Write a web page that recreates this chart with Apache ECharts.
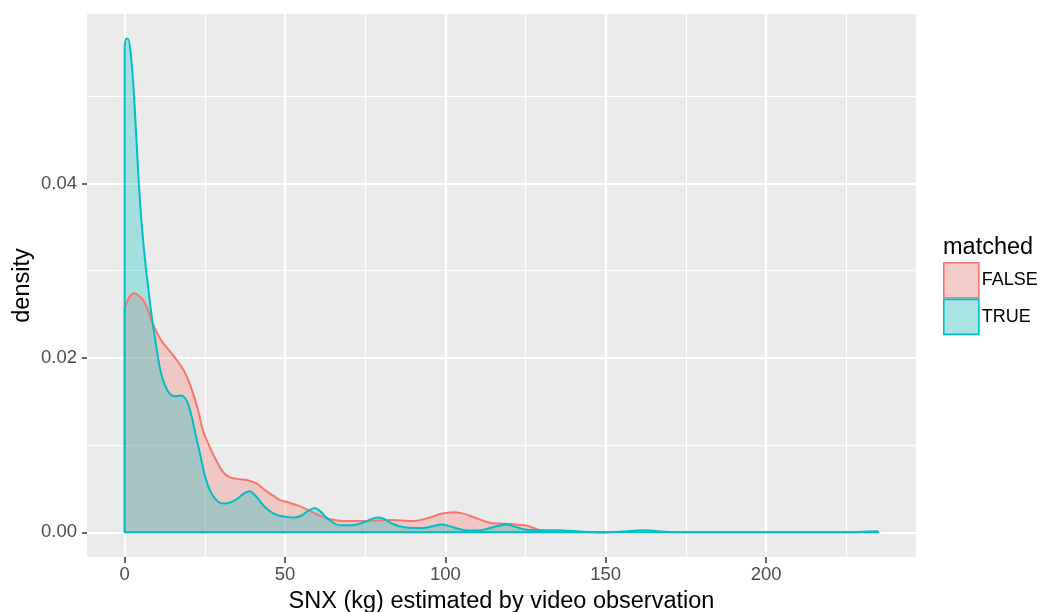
<!DOCTYPE html>
<html>
<head>
<meta charset="utf-8">
<script src="https://cdn.jsdelivr.net/npm/echarts@6/dist/echarts.min.js"></script>
<style>
html,body{margin:0;padding:0;background:#fff;}
#chart{width:1047px;height:612px;}
</style>
</head>
<body>
<div id="chart"></div>
<script>
// ---- data ----
const trueX = [0, 0.5, 1, 2, 3, 4.4, 5.5, 6.7, 7.3, 8.3, 9.9, 11, 12, 13.3, 14.6, 16, 17.7, 18.8, 19.8, 21, 22.3, 23.5, 24.5, 25.5, 27, 29.1, 31, 32.8, 35, 37, 39, 41, 43.2, 45, 47.3, 50, 53, 55, 57, 59.3, 61, 62.9, 65, 67.1, 70, 72.3, 75, 77.5, 79.4, 81.5, 84, 86.9, 90, 93.1, 96, 98.8, 101.4, 104, 107, 110, 113, 116, 119.1, 122, 125.4, 130, 134.7, 138, 142, 146, 150, 155, 161.8, 167, 172, 180, 200, 220, 228, 232, 235];
const trueY = [0.0557, 0.0566, 0.0566, 0.0545, 0.0495, 0.0400, 0.0345, 0.0300, 0.0282, 0.0251, 0.0212, 0.0188, 0.0174, 0.0163, 0.0157, 0.0156, 0.0157, 0.0154, 0.0147, 0.0131, 0.0109, 0.0090, 0.0073, 0.0059, 0.0045, 0.0035, 0.0033, 0.0034, 0.0038, 0.0044, 0.0047, 0.0041, 0.0031, 0.0025, 0.0020, 0.0018, 0.0017, 0.0019, 0.0024, 0.0028, 0.0024, 0.0017, 0.0011, 0.0008, 0.0008, 0.0009, 0.0012, 0.0016, 0.0017, 0.0014, 0.0009, 0.0006, 0.0005, 0.0005, 0.0007, 0.0009, 0.0007, 0.0004, 0.0002, 0.0002, 0.0004, 0.0007, 0.0009, 0.0006, 0.0003, 0.00025, 0.00025, 0.00018, 0.0001, 0.00003, 0.00001, 0.00008, 0.00025, 0.0001, 0.00002, 0, 0, 0, 0.00002, 0.0001, 0.00012];

const falseX = [0, 1.5, 3.1, 4.5, 6.2, 7.3, 8.3, 9.8, 11.4, 13.3, 15.1, 17.7, 19.3, 20.8, 22.9, 24.4, 26.5, 28.6, 30.5, 32.8, 35.5, 38, 41.1, 43.5, 46.3, 48.4, 50.5, 54.6, 57.5, 60.9, 64, 68.1, 75.4, 82.7, 90, 95.2, 98.3, 102.5, 105, 107.7, 110.5, 113.9, 117, 120.2, 123, 125.4, 127.5, 129.5, 132.5, 135.8, 140, 145, 150];
const falseY = [0.0257, 0.0270, 0.0274, 0.0271, 0.0264, 0.0254, 0.0243, 0.0231, 0.0220, 0.0211, 0.0203, 0.0190, 0.0179, 0.0165, 0.0140, 0.0117, 0.0098, 0.0082, 0.0070, 0.0063, 0.0061, 0.0060, 0.0056, 0.0049, 0.0042, 0.0037, 0.0035, 0.0030, 0.0025, 0.0019, 0.0015, 0.0013, 0.0013, 0.0014, 0.0013, 0.0017, 0.0021, 0.0023, 0.0022, 0.0019, 0.0015, 0.0011, 0.0010, 0.00094, 0.00085, 0.00075, 0.0005, 0.00025, 0.00015, 0.0001, 0.00006, 0.00003, 0.00001];

const xTicks = [0, 50, 100, 150, 200];
const xMinor = [25, 75, 125, 175, 225];
const yTicks = [0, 0.02, 0.04];
const yMinor = [0.01, 0.03, 0.05];
const groupNames = ['FALSE', 'TRUE'];
const legendTitle = 'matched';
const xTitle = 'SNX (kg) estimated by video observation';
const yTitle = 'density';

// ---- build ----
const FONT = 'Liberation Sans, Arial, Helvetica, sans-serif';
const RED = '#F8766D', TEAL = '#00BFC4';
const zip = (xs, ys) => xs.map((x, i) => [x, ys[i]]);
const falseData = zip(falseX, falseY);
const trueData = zip(trueX, trueY);

const gridLines = [];
xTicks.forEach(v => gridLines.push({xAxis: v, lineStyle: {color: '#fff', width: 2.2, type: 'solid'}}));
xMinor.forEach(v => gridLines.push({xAxis: v, lineStyle: {color: '#fff', width: 1.1, type: 'solid'}}));
yTicks.forEach(v => gridLines.push({yAxis: v, lineStyle: {color: '#fff', width: 2.2, type: 'solid'}}));
yMinor.forEach(v => gridLines.push({yAxis: v, lineStyle: {color: '#fff', width: 1.1, type: 'solid'}}));

function outline(data) {
  const first = data[0], last = data[data.length - 1];
  return [[first[0], first[1]], [first[0], 0], [last[0], 0], [last[0], last[1]]];
}

const chart = echarts.init(document.getElementById('chart'), null, {renderer: 'canvas'});
chart.setOption({
  animation: false,
  backgroundColor: '#ffffff',
  textStyle: {fontFamily: FONT},
  grid: {left: 87, top: 14, width: 829, height: 543, containLabel: false, outerBoundsMode: 'none',
         show: true, backgroundColor: '#EBEBEB', borderWidth: 0},
  xAxis: {
    type: 'value', min: -11.75, max: 246.75,
    axisLine: {show: true, onZero: false, lineStyle: {color: 'rgba(0,0,0,0)'}},
    splitLine: {show: false},
    axisTick: {show: true, length: 6, lineStyle: {color: '#333333', width: 1.5}, customValues: xTicks},
    axisLabel: {show: true, customValues: xTicks, color: '#4D4D4D', fontSize: 18.5, margin: 8, fontFamily: FONT},
    name: xTitle, nameLocation: 'middle', nameGap: 33, nameMoveOverlap: false,
    nameTextStyle: {color: '#000', fontSize: 23.5, fontFamily: FONT}
  },
  yAxis: {
    type: 'value', min: -0.00283, max: 0.05943,
    axisLine: {show: true, onZero: false, lineStyle: {color: 'rgba(0,0,0,0)'}},
    splitLine: {show: false},
    axisTick: {show: true, length: 5, lineStyle: {color: '#333333', width: 1.5}, customValues: yTicks},
    axisLabel: {show: true, customValues: yTicks, color: '#4D4D4D', fontSize: 18.5, margin: 10, fontFamily: FONT,
                formatter: v => v.toFixed(2)},
    name: yTitle, nameLocation: 'middle', nameGap: 52, nameRotate: 90, nameMoveOverlap: false,
    nameTextStyle: {color: '#000', fontSize: 23.5, fontFamily: FONT}
  },
  legend: {
    orient: 'vertical', left: 943, top: 262, padding: 0,
    itemWidth: 35, itemHeight: 35, itemGap: 0, icon: 'rect',
    selectedMode: false,
    textStyle: {color: '#000', fontSize: 18, fontFamily: FONT, padding: [0, 0, 0, -2]},
    data: [
      {name: groupNames[0], itemStyle: {color: '#F4CDCA', borderColor: RED, borderWidth: 1.6}},
      {name: groupNames[1], itemStyle: {color: '#A9E3E4', borderColor: TEAL, borderWidth: 1.6}}
    ]
  },
  graphic: [{
    type: 'text', left: 943, top: 236, silent: true,
    style: {text: legendTitle, fill: '#000', font: '23.5px ' + FONT}
  }],
  series: [
    {type: 'line', name: '_grid', data: [], silent: true, z: 1,
     markLine: {silent: true, symbol: 'none', z: 1, animation: false, label: {show: false}, data: gridLines}},
    {type: 'line', name: groupNames[0], data: falseData, smooth: 0.35, showSymbol: false, symbol: 'none', z: 2,
     itemStyle: {color: RED},
     lineStyle: {color: RED, width: 2},
     areaStyle: {color: RED, opacity: 0.3}},
    {type: 'line', name: '_fo', data: outline(falseData), smooth: false, showSymbol: false, symbol: 'none', z: 2,
     lineStyle: {color: RED, width: 2}},
    {type: 'line', name: groupNames[1], data: trueData, smooth: 0.35, showSymbol: false, symbol: 'none', z: 2,
     itemStyle: {color: TEAL},
     lineStyle: {color: TEAL, width: 2},
     areaStyle: {color: TEAL, opacity: 0.3}},
    {type: 'line', name: '_to', data: outline(trueData), smooth: false, showSymbol: false, symbol: 'none', z: 2,
     lineStyle: {color: TEAL, width: 2}}
  ]
});
</script>
</body>
</html>
